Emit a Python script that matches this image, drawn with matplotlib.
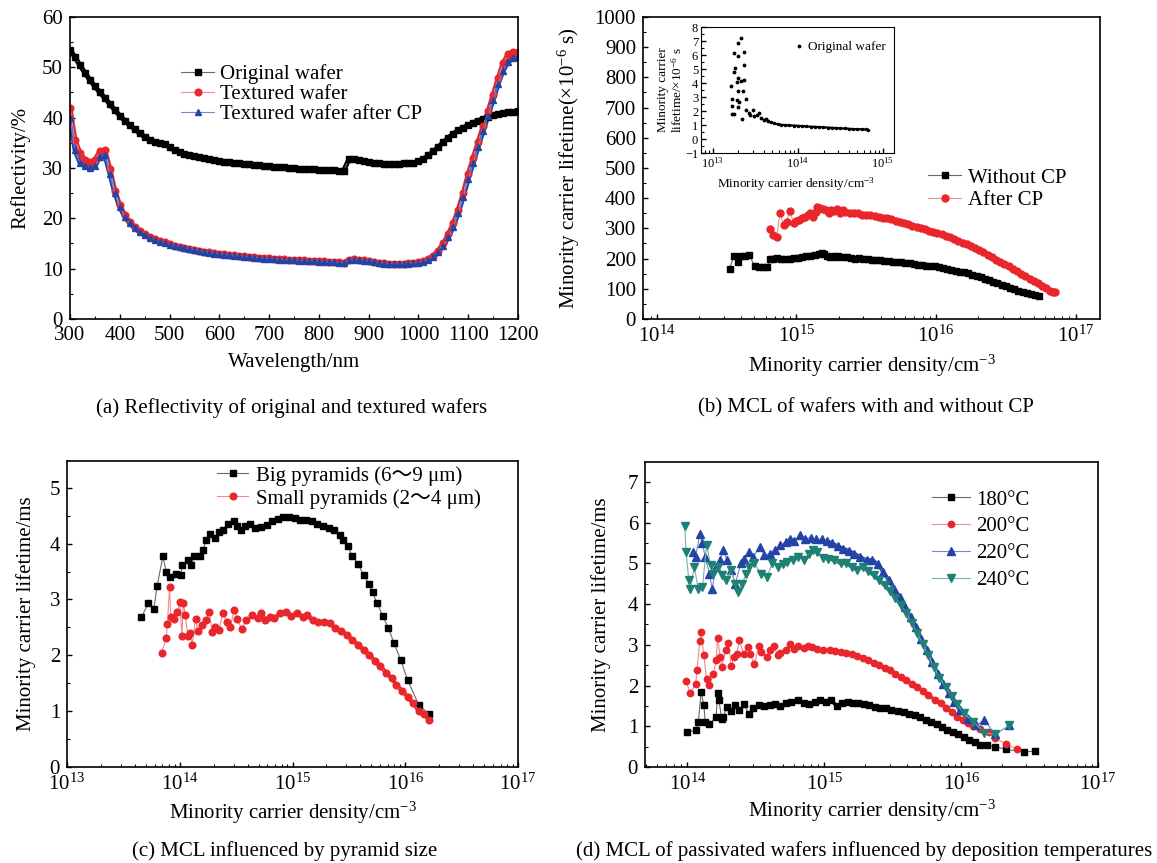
import numpy as np
import matplotlib
matplotlib.use('Agg')
import matplotlib.pyplot as plt
from matplotlib.ticker import MultipleLocator, LogLocator, LogFormatterMathtext, NullFormatter

plt.rcParams['font.family'] = ['Liberation Serif', 'Noto Sans CJK SC']
plt.rcParams['mathtext.fontset'] = 'custom'
plt.rcParams['mathtext.rm'] = 'Liberation Serif'
plt.rcParams['mathtext.it'] = 'Liberation Serif:italic'

# (a) reflectivity spectra
wavelength = list(range(300, 1201, 10))
refl_original = [53.5, 52.0, 50.4, 48.9, 47.5, 46.2, 45.0, 43.9, 42.7, 41.5,
                 40.4, 39.4, 38.5, 37.7, 36.9, 36.2, 35.6, 35.1, 34.9, 34.8,
                 34.1, 33.5, 33.1, 32.8, 32.5, 32.3, 32.1, 31.9, 31.7, 31.5,
                 31.4, 31.2, 31.1, 31.0, 30.9, 30.8, 30.7, 30.6, 30.5, 30.4,
                 30.3, 30.25, 30.2, 30.1, 30.0, 30.0, 29.9, 29.9, 29.8, 29.8,
                 29.7, 29.7, 29.6, 29.6, 29.5, 29.5, 31.7, 31.7, 31.6, 31.4,
                 31.2, 31.0, 30.9, 30.8, 30.8, 30.8, 30.8, 30.9, 30.9, 31.0,
                 31.3, 31.8, 32.5, 33.3, 34.2, 35.1, 36.0, 36.8, 37.5, 38.0,
                 38.5, 39.0, 39.4, 39.8, 40.2, 40.5, 40.7, 40.9, 41.1, 41.2,
                 41.3]
refl_textured = [42.0, 35.5, 33.0, 31.6, 31.2, 31.6, 33.3, 33.5, 29.8, 25.5,
                 22.6, 20.6, 19.2, 18.2, 17.4, 16.8, 16.3, 15.9, 15.5, 15.2,
                 14.9, 14.6, 14.4, 14.2, 14.0, 13.8, 13.6, 13.4, 13.25, 13.1,
                 13.0, 12.9, 12.8, 12.7, 12.6, 12.5, 12.4, 12.3, 12.2, 12.1,
                 12.05, 12.0, 11.9, 11.85, 11.8, 11.75, 11.7, 11.65, 11.6, 11.55,
                 11.5, 11.45, 11.4, 11.35, 11.3, 11.2, 11.8, 11.9, 11.8, 11.7,
                 11.6, 11.4, 11.2, 11.1, 11.0, 11.0, 11.0, 11.0, 11.1, 11.2,
                 11.3, 11.5, 11.9, 12.6, 13.6, 15.0, 16.8, 19.0, 21.7, 25.0,
                 28.8, 32.0, 35.2, 38.3, 41.3, 44.5, 47.8, 50.8, 52.6, 53.1,
                 53.0]
refl_textured_cp = [40.0, 33.5, 31.0, 30.3, 30.0, 30.3, 32.2, 32.6, 28.8, 25.0,
                    22.2, 20.3, 19.0, 18.0, 17.2, 16.6, 16.1, 15.7, 15.3, 15.0,
                    14.7, 14.5, 14.3, 14.1, 13.9, 13.7, 13.5, 13.3, 13.15, 13.0,
                    12.9, 12.8, 12.7, 12.6, 12.5, 12.4, 12.3, 12.2, 12.1, 12.0,
                    11.95, 11.9, 11.8, 11.75, 11.7, 11.65, 11.6, 11.55, 11.5, 11.45,
                    11.4, 11.35, 11.3, 11.25, 11.2, 11.1, 11.7, 11.8, 11.7, 11.6,
                    11.5, 11.3, 11.1, 11.0, 10.9, 10.9, 10.9, 10.9, 11.0, 11.1,
                    11.2, 11.4, 11.8, 12.4, 13.3, 14.5, 16.2, 18.3, 21.0, 24.2,
                    27.8, 31.0, 34.2, 37.3, 40.4, 43.5, 46.6, 49.3, 51.0, 51.8,
                    52.0]

# (b) lifetime (us) vs log10 density
nocp_logn = [14.52, 14.55, 14.58, 14.60, 14.63, 14.66, 14.70, 14.73, 14.76, 14.79,
             14.81, 14.83, 14.86, 14.89, 14.92, 14.95, 14.98, 15.01, 15.04, 15.07,
             15.10, 15.13, 15.16, 15.18, 15.20, 15.22, 15.24, 15.26, 15.28, 15.30,
             15.33, 15.36, 15.39, 15.42, 15.45, 15.48, 15.51, 15.54, 15.57, 15.60,
             15.63, 15.66, 15.69, 15.72, 15.75, 15.78, 15.81, 15.84, 15.87, 15.90,
             15.93, 15.96, 15.99, 16.02, 16.05, 16.08, 16.11, 16.14, 16.17, 16.20,
             16.23, 16.26, 16.29, 16.32, 16.35, 16.38, 16.41, 16.44, 16.47, 16.50,
             16.53, 16.56, 16.59, 16.62, 16.65, 16.68, 16.71, 16.74]
nocp_tau = [165, 209, 190, 207, 210, 213, 176, 171, 171, 172,
            198, 200, 201, 199, 198, 200, 202, 203, 205, 207,
            210, 212, 216, 218, 215, 210, 204, 207, 206, 208,
            206, 204, 202, 200, 201, 199, 198, 197, 196, 194,
            193, 192, 190, 189, 188, 186, 184, 182, 180, 179,
            177, 175, 174, 172, 169, 166, 163, 160, 157, 154,
            151, 147, 143, 139, 134, 129, 124, 119, 114, 109,
            104, 99, 94, 90, 86, 82, 79, 77]
cp_logn = [14.81, 14.83, 14.86, 14.88, 14.91, 14.93, 14.95, 14.98, 15.00, 15.02,
           15.04, 15.06, 15.08, 15.10, 15.12, 15.14, 15.15, 15.17, 15.19, 15.21,
           15.23, 15.25, 15.27, 15.29, 15.31, 15.33, 15.35, 15.38, 15.41, 15.44,
           15.47, 15.50, 15.53, 15.56, 15.59, 15.62, 15.65, 15.68, 15.71, 15.74,
           15.77, 15.80, 15.83, 15.86, 15.89, 15.92, 15.95, 15.98, 16.01, 16.04,
           16.07, 16.10, 16.13, 16.16, 16.19, 16.22, 16.25, 16.28, 16.31, 16.34,
           16.37, 16.40, 16.43, 16.46, 16.49, 16.52, 16.55, 16.58, 16.61, 16.64,
           16.67, 16.70, 16.73, 16.76, 16.79, 16.82, 16.84, 16.85]
cp_tau = [298, 279, 273, 352, 311, 320, 359, 319, 325, 328,
          333, 339, 345, 350, 337, 355, 372, 368, 365, 360,
          352, 362, 358, 365, 352, 360, 355, 352, 350, 350,
          346, 345, 343, 340, 338, 336, 333, 330, 326, 322,
          318, 314, 309, 305, 301, 297, 293, 289, 285, 280,
          275, 270, 265, 259, 253, 247, 241, 235, 228, 221,
          213, 205, 197, 189, 181, 174, 166, 158, 150, 142,
          134, 126, 118, 110, 101, 93, 89, 88]

# (b) inset: original wafer
orig_logn = [13.218, 13.226, 13.226, 13.222, 13.246, 13.25, 13.26, 13.25, 13.28, 13.28,
             13.29, 13.30, 13.30, 13.30, 13.30, 13.31, 13.325, 13.325, 13.37, 13.37,
             13.37, 13.35, 13.34, 13.39, 13.39, 13.42, 13.44, 13.47, 13.48, 13.52,
             13.54, 13.56, 13.60, 13.63, 13.65]
orig_tau = [3.81, 2.86, 2.38, 1.81, 1.81, 6.14, 5.07, 4.76, 4.05, 2.81,
            2.29, 4.36, 5.90, 6.86, 3.40, 2.62, 7.21, 4.12, 6.21, 5.31,
            4.24, 3.40, 1.43, 2.86, 2.10, 1.86, 1.74, 2.10, 1.62, 1.74,
            1.86, 1.50, 1.38, 1.43, 1.26]
orig_tail_logn = [13.68, 13.72, 13.76, 13.80, 13.85, 13.90, 13.95, 14.00, 14.05, 14.10,
                  14.15, 14.20, 14.25, 14.30, 14.35, 14.40, 14.45, 14.50, 14.55, 14.60,
                  14.65, 14.70, 14.75, 14.80, 14.82]
orig_tail_tau = [1.18, 1.12, 1.06, 1.02, 0.99, 0.97, 0.96, 0.94, 0.92, 0.90,
                 0.88, 0.87, 0.85, 0.83, 0.82, 0.80, 0.78, 0.76, 0.75, 0.73,
                 0.71, 0.70, 0.69, 0.68, 0.67]

# (c) pyramid size, lifetime in ms
big_logn = [13.66, 13.72, 13.77, 13.80, 13.85, 13.88, 13.91, 13.97, 14.01, 14.02,
            14.07, 14.10, 14.13, 14.18, 14.21, 14.23, 14.27, 14.31, 14.35, 14.38,
            14.43, 14.48, 14.51, 14.54, 14.58, 14.62, 14.67, 14.72, 14.77, 14.82,
            14.87, 14.92, 14.97, 15.02, 15.07, 15.12, 15.17, 15.22, 15.27, 15.32,
            15.37, 15.42, 15.45, 15.49, 15.53, 15.58, 15.63, 15.68, 15.71, 15.75,
            15.80, 15.85, 15.90, 15.96, 16.02, 16.12, 16.21]
big_tau = [2.68, 2.93, 2.83, 3.25, 3.77, 3.50, 3.41, 3.46, 3.44, 3.61,
           3.71, 3.61, 3.77, 3.78, 3.89, 4.06, 4.17, 4.10, 4.20, 4.25,
           4.35, 4.40, 4.31, 4.25, 4.32, 4.36, 4.28, 4.30, 4.34, 4.40,
           4.44, 4.48, 4.48, 4.46, 4.43, 4.42, 4.41, 4.36, 4.32, 4.28,
           4.24, 4.16, 4.07, 3.95, 3.78, 3.64, 3.44, 3.28, 3.13, 2.93,
           2.71, 2.49, 2.22, 1.92, 1.56, 1.11, 0.95]
small_logn = [13.84, 13.88, 13.89, 13.91, 13.92, 13.95, 13.98, 14.00, 14.02, 14.03,
              14.05, 14.07, 14.09, 14.11, 14.14, 14.16, 14.20, 14.23, 14.26, 14.29,
              14.31, 14.35, 14.38, 14.42, 14.45, 14.48, 14.51, 14.55, 14.59, 14.64,
              14.69, 14.72, 14.76, 14.80, 14.84, 14.89, 14.94, 14.99, 15.04, 15.09,
              15.13, 15.18, 15.23, 15.28, 15.33, 15.38, 15.43, 15.48, 15.53, 15.58,
              15.63, 15.68, 15.73, 15.78, 15.83, 15.88, 15.92, 15.97, 16.02, 16.07,
              16.12, 16.17, 16.21]
small_tau = [2.05, 2.31, 2.56, 3.22, 2.68, 2.65, 2.77, 2.95, 2.34, 2.94,
             2.72, 2.35, 2.40, 2.19, 2.65, 2.44, 2.54, 2.63, 2.78, 2.41,
             2.51, 2.46, 2.75, 2.60, 2.51, 2.81, 2.65, 2.47, 2.63, 2.72,
             2.66, 2.75, 2.63, 2.69, 2.66, 2.75, 2.78, 2.71, 2.75, 2.69,
             2.72, 2.63, 2.59, 2.60, 2.57, 2.49, 2.44, 2.37, 2.28, 2.19,
             2.10, 2.01, 1.90, 1.80, 1.69, 1.59, 1.47, 1.37, 1.26, 1.14,
             1.01, 0.95, 0.84]

# (d) deposition temperature, lifetime in ms
t180_logn = [14.00, 14.06, 14.08, 14.10, 14.12, 14.13, 14.16, 14.21, 14.22, 14.23,
             14.25, 14.26, 14.29, 14.32, 14.35, 14.38, 14.41, 14.45, 14.48, 14.52,
             14.56, 14.60, 14.64, 14.68, 14.72, 14.76, 14.81, 14.85, 14.89, 14.93,
             14.97, 15.01, 15.05, 15.09, 15.13, 15.17, 15.21, 15.25, 15.29, 15.33,
             15.37, 15.41, 15.45, 15.49, 15.54, 15.58, 15.62, 15.66, 15.70, 15.74,
             15.78, 15.82, 15.86, 15.90, 15.94, 15.98, 16.02, 16.06, 16.10, 16.14,
             16.19, 16.25, 16.33, 16.46, 16.54]
t180_tau = [0.86, 0.90, 1.11, 1.84, 1.52, 1.11, 1.05, 1.23, 1.82, 1.64,
            1.19, 1.23, 1.47, 1.38, 1.52, 1.39, 1.54, 1.31, 1.46, 1.52,
            1.49, 1.52, 1.54, 1.49, 1.56, 1.60, 1.64, 1.57, 1.54, 1.60,
            1.64, 1.60, 1.65, 1.49, 1.56, 1.60, 1.57, 1.56, 1.54, 1.52,
            1.47, 1.46, 1.46, 1.41, 1.38, 1.34, 1.31, 1.27, 1.23, 1.16,
            1.11, 1.05, 0.98, 0.92, 0.86, 0.80, 0.74, 0.67, 0.61, 0.55,
            0.53, 0.50, 0.43, 0.37, 0.39]
t200_logn = [13.99, 14.02, 14.06, 14.07, 14.09, 14.10, 14.12, 14.14, 14.16, 14.19,
             14.21, 14.22, 14.24, 14.25, 14.28, 14.30, 14.32, 14.34, 14.36, 14.38,
             14.41, 14.44, 14.46, 14.49, 14.52, 14.54, 14.58, 14.60, 14.63, 14.66,
             14.68, 14.72, 14.75, 14.78, 14.81, 14.85, 14.88, 14.91, 14.95, 14.99,
             15.04, 15.08, 15.12, 15.16, 15.20, 15.24, 15.28, 15.32, 15.36, 15.40,
             15.44, 15.48, 15.52, 15.56, 15.60, 15.64, 15.68, 15.72, 15.76, 15.81,
             15.85, 15.89, 15.93, 15.97, 16.01, 16.05, 16.09, 16.14, 16.20, 16.25,
             16.33, 16.41]
t200_tau = [2.11, 1.82, 2.03, 2.38, 3.10, 3.32, 2.74, 2.17, 2.01, 2.28,
            2.62, 3.18, 2.70, 2.46, 2.87, 3.05, 2.47, 2.70, 2.77, 3.11,
            2.78, 2.95, 2.78, 2.52, 2.97, 2.83, 2.69, 2.87, 2.97, 2.74,
            2.80, 2.87, 3.03, 2.91, 2.97, 2.93, 2.98, 2.95, 2.91, 2.88,
            2.87, 2.85, 2.83, 2.80, 2.77, 2.72, 2.67, 2.62, 2.56, 2.50,
            2.44, 2.38, 2.29, 2.21, 2.13, 2.05, 1.97, 1.87, 1.76, 1.65,
            1.56, 1.46, 1.35, 1.24, 1.16, 1.08, 1.00, 0.93, 0.86, 0.70,
            0.57, 0.43]
t220_logn = [14.04, 14.06, 14.09, 14.11, 14.13, 14.16, 14.18, 14.21, 14.24, 14.26,
             14.29, 14.32, 14.35, 14.39, 14.41, 14.45, 14.48, 14.53, 14.56, 14.60,
             14.64, 14.68, 14.72, 14.75, 14.78, 14.82, 14.86, 14.90, 14.94, 14.98,
             15.02, 15.06, 15.10, 15.14, 15.18, 15.22, 15.26, 15.31, 15.35, 15.39,
             15.43, 15.47, 15.51, 15.55, 15.59, 15.63, 15.67, 15.71, 15.75, 15.79,
             15.83, 15.87, 15.91, 15.95, 15.99, 16.05, 16.11, 16.17, 16.25, 16.35]
t220_tau = [5.28, 5.16, 5.73, 5.49, 5.16, 4.75, 4.38, 4.91, 5.08, 5.32,
            5.08, 4.83, 4.50, 5.00, 5.12, 5.28, 5.16, 5.41, 5.20, 5.24,
            5.32, 5.45, 5.53, 5.61, 5.55, 5.69, 5.61, 5.63, 5.59, 5.59,
            5.55, 5.49, 5.42, 5.36, 5.31, 5.24, 5.16, 5.08, 5.09, 4.98,
            4.79, 4.59, 4.38, 4.18, 3.93, 3.69, 3.44, 3.15, 2.87, 2.58,
            2.29, 2.05, 1.82, 1.60, 1.39, 1.19, 1.02, 1.15, 0.80, 1.02]
t240_logn = [13.98, 13.99, 14.01, 14.02, 14.05, 14.08, 14.11, 14.14, 14.17, 14.19,
             14.22, 14.25, 14.28, 14.32, 14.35, 14.37, 14.40, 14.43, 14.45, 14.49,
             14.54, 14.58, 14.62, 14.66, 14.70, 14.73, 14.77, 14.81, 14.85, 14.89,
             14.92, 14.95, 14.99, 15.03, 15.07, 15.12, 15.16, 15.20, 15.24, 15.28,
             15.32, 15.36, 15.40, 15.44, 15.48, 15.52, 15.56, 15.60, 15.64, 15.68,
             15.72, 15.76, 15.80, 15.84, 15.89, 15.93, 15.97, 16.02, 16.09, 16.17,
             16.25, 16.35]
t240_tau = [5.91, 5.28, 4.60, 4.36, 4.91, 4.36, 4.42, 5.45, 4.95, 4.75,
            4.91, 4.71, 4.59, 4.83, 4.50, 4.30, 4.50, 4.75, 4.91, 5.00,
            4.73, 4.67, 5.00, 4.91, 4.98, 5.04, 5.08, 5.16, 5.09, 5.24,
            5.32, 5.28, 5.14, 5.12, 5.08, 5.00, 5.01, 4.91, 4.85, 4.91,
            4.82, 4.71, 4.59, 4.46, 4.32, 4.16, 3.97, 3.77, 3.54, 3.28,
            3.01, 2.74, 2.46, 2.19, 1.97, 1.74, 1.54, 1.33, 1.11, 0.84,
            0.80, 1.02]

W, H = 1157, 863
FS = 15
BLACK, BLACK_LN = '#000000', '#6a6a6a'
RED, RED_LN = '#e8262b', '#f08a8c'
BLUE, BLUE_LN = '#2443a6', '#7a88cc'
TEAL, TEAL_LN = '#1f8076', '#77b3ab'


def box(x0, y0, x1, y1):
    return [x0 / W, 1 - y1 / H, (x1 - x0) / W, (y1 - y0) / H]


def style(ax, fs=FS, pad=5):
    ax.tick_params(which='both', direction='in', top=False, right=False,
                   labelsize=fs, pad=pad)
    ax.tick_params(which='major', length=3.8, width=1.0)
    ax.tick_params(which='minor', length=2.2, width=0.8)
    for s in ax.spines.values():
        s.set_linewidth(1.2)


def logx(ax):
    ax.set_xscale('log')
    ax.xaxis.set_major_locator(LogLocator(base=10, numticks=12))
    ax.xaxis.set_major_formatter(LogFormatterMathtext())
    ax.xaxis.set_minor_locator(LogLocator(base=10, subs=np.arange(2, 10), numticks=12))
    ax.xaxis.set_minor_formatter(NullFormatter())


def series(ax, x, y, marker, mc, lc, ms, label=None):
    ax.plot(x, y, '-', color=lc, lw=0.8, marker=marker, ms=ms,
            mfc=mc, mec=mc, label=label)


def band(ax, x, y, color, lw):
    # dense measurement points merge into a solid band in the original
    ax.plot(x, y, '-', color=color, lw=lw, solid_capstyle='round')


def legend(ax, x, y, hl, tp, ls, fs=FS):
    ax.legend(loc='upper left', bbox_to_anchor=(x / W, 1 - y / H),
              bbox_transform=fig.transFigure, frameon=False, borderpad=0,
              borderaxespad=0, handlelength=hl, handletextpad=tp,
              labelspacing=ls, fontsize=fs, numpoints=1)


def lg(v):
    return 10 ** np.array(v)


fig = plt.figure(figsize=(W / 100, H / 100), dpi=100)

# ---- (a)
ax = fig.add_axes(box(70, 17, 518, 319))
band(ax, wavelength, refl_original, BLACK, 3.6)
band(ax, wavelength, refl_textured, RED, 3.6)
band(ax, wavelength, refl_textured_cp, BLUE, 3.4)
series(ax, wavelength, refl_original, 's', BLACK, BLACK_LN, 4.5, 'Original wafer')
series(ax, wavelength, refl_textured, 'o', RED, RED_LN, 4.8, 'Textured wafer')
series(ax, wavelength, refl_textured_cp, '^', BLUE, BLUE_LN, 5, 'Textured wafer after CP')
ax.set_xlim(300, 1200)
ax.set_ylim(0, 60)
ax.xaxis.set_major_locator(MultipleLocator(100))
ax.xaxis.set_minor_locator(MultipleLocator(50))
ax.yaxis.set_major_locator(MultipleLocator(10))
ax.yaxis.set_minor_locator(MultipleLocator(5))
style(ax)
ax.set_xlabel('Wavelength/nm', fontsize=FS)
ax.set_ylabel('Reflectivity/%', fontsize=FS)
ax.xaxis.set_label_coords(0.5, -0.112)
ax.yaxis.set_label_coords(-0.089, 0.5)
legend(ax, 181, 64, 1.6, 0.25, 0.02)

# ---- (b)
ax = fig.add_axes(box(643, 17, 1100, 319))
band(ax, lg(nocp_logn[11:]), nocp_tau[11:], BLACK, 4.0)
band(ax, lg(cp_logn[16:]), cp_tau[16:], RED, 4.0)
series(ax, lg(nocp_logn), nocp_tau, 's', BLACK, BLACK_LN, 5, 'Without CP')
series(ax, lg(cp_logn), cp_tau, 'o', RED, RED_LN, 5, 'After CP')
logx(ax)
ax.set_xlim(10 ** 13.9, 10 ** 17.175)
ax.set_ylim(0, 1000)
ax.yaxis.set_major_locator(MultipleLocator(100))
ax.yaxis.set_minor_locator(MultipleLocator(50))
style(ax)
ax.set_xlabel('Minority carrier density/cm$^{-3}$', fontsize=FS)
ax.set_ylabel('Minority carrier lifetime(×10$^{-6}$ s)', fontsize=FS)
ax.xaxis.set_label_coords(0.5, -0.112)
ax.yaxis.set_label_coords(-0.133, 0.5)
legend(ax, 928, 168, 1.6, 0.3, 0.15)

# inset
ins = fig.add_axes(box(701, 27, 894, 153))
ins.plot(lg(orig_logn), orig_tau, '.', color='black', ms=3.5, label='Original wafer')
ins.plot(lg(orig_tail_logn), orig_tail_tau, '-', color='black', lw=1.6,
         marker='.', ms=3)
logx(ins)
ins.set_xlim(10 ** 12.86, 10 ** 15.13)
ins.set_ylim(-1, 8)
ins.yaxis.set_major_locator(MultipleLocator(1))
ins.yaxis.set_minor_locator(MultipleLocator(0.5))
style(ins, fs=9, pad=2)
for s in ins.spines.values():
    s.set_linewidth(0.8)
ins.set_xlabel('Minority carrier density/cm$^{-3}$', fontsize=9.5)
ins.set_ylabel('Minority carrier\nlifetime/×10$^{-6}$ s', fontsize=9.5, linespacing=1.15)
ins.xaxis.set_label_coords(0.49, -0.175)
ins.yaxis.set_label_coords(-0.083, 0.5)
ins.legend(loc='upper left', bbox_to_anchor=(794 / W, 1 - 41 / H),
           bbox_transform=fig.transFigure, frameon=False, borderpad=0,
           borderaxespad=0, handlelength=0.8, handletextpad=0.25,
           fontsize=9.5, numpoints=1)

# ---- (c)
ax = fig.add_axes(box(67, 461, 518, 767))
band(ax, lg(small_logn[29:]), small_tau[29:], RED, 3.0)
series(ax, lg(big_logn), big_tau, 's', BLACK, BLACK_LN, 4.5, 'Big pyramids (6～9 μm)')
series(ax, lg(small_logn), small_tau, 'o', RED, RED_LN, 4.8, 'Small pyramids (2～4 μm)')
logx(ax)
ax.set_xlim(1e13, 1e17)
ax.set_ylim(0, 5.48)
ax.yaxis.set_major_locator(MultipleLocator(1))
ax.yaxis.set_minor_locator(MultipleLocator(0.5))
style(ax)
ax.set_xlabel('Minority carrier density/cm$^{-3}$', fontsize=FS)
ax.set_ylabel('Minority carrier lifetime/ms', fontsize=FS)
ax.xaxis.set_label_coords(0.5, -0.108)
ax.yaxis.set_label_coords(-0.069, 0.5)
legend(ax, 217, 466, 1.5, 0.38, 0.15)

# ---- (d)
ax = fig.add_axes(box(645, 462, 1098, 767))
band(ax, lg(t180_logn[20:61]), t180_tau[20:61], BLACK, 2.4)
band(ax, lg(t200_logn[40:68]), t200_tau[40:68], RED, 2.6)
band(ax, lg(t220_logn[30:57]), t220_tau[30:57], BLUE, 2.6)
band(ax, lg(t240_logn[33:59]), t240_tau[33:59], TEAL, 2.6)
series(ax, lg(t180_logn), t180_tau, 's', BLACK, BLACK_LN, 4.2, '180°C')
series(ax, lg(t200_logn), t200_tau, 'o', RED, RED_LN, 4.6, '200°C')
series(ax, lg(t220_logn), t220_tau, '^', BLUE, BLUE_LN, 5.5, '220°C')
series(ax, lg(t240_logn), t240_tau, 'v', TEAL, TEAL_LN, 5.5, '240°C')
logx(ax)
ax.set_xlim(10 ** 13.69, 1e17)
ax.set_ylim(0, 7.49)
ax.yaxis.set_major_locator(MultipleLocator(1))
ax.yaxis.set_minor_locator(MultipleLocator(0.5))
style(ax)
ax.set_xlabel('Minority carrier density/cm$^{-3}$', fontsize=FS)
ax.set_ylabel('Minority carrier lifetime/ms', fontsize=FS)
ax.xaxis.set_label_coords(0.5, -0.102)
ax.yaxis.set_label_coords(-0.075, 0.5)
legend(ax, 932, 490, 1.8, 0.33, 0.35)

# captions
fig.text(292 / W, 1 - 408 / H, '(a) Reflectivity of original and textured wafers',
         ha='center', va='center', fontsize=FS)
fig.text(866 / W, 1 - 408 / H, '(b) MCL of wafers with and without CP',
         ha='center', va='center', fontsize=FS)
fig.text(285 / W, 1 - 851 / H, '(c) MCL influenced by pyramid size',
         ha='center', va='center', fontsize=FS)
fig.text(864 / W, 1 - 851 / H,
         '(d) MCL of passivated wafers influenced by deposition temperatures',
         ha='center', va='center', fontsize=FS)

fig.savefig('out.png', dpi=100)
